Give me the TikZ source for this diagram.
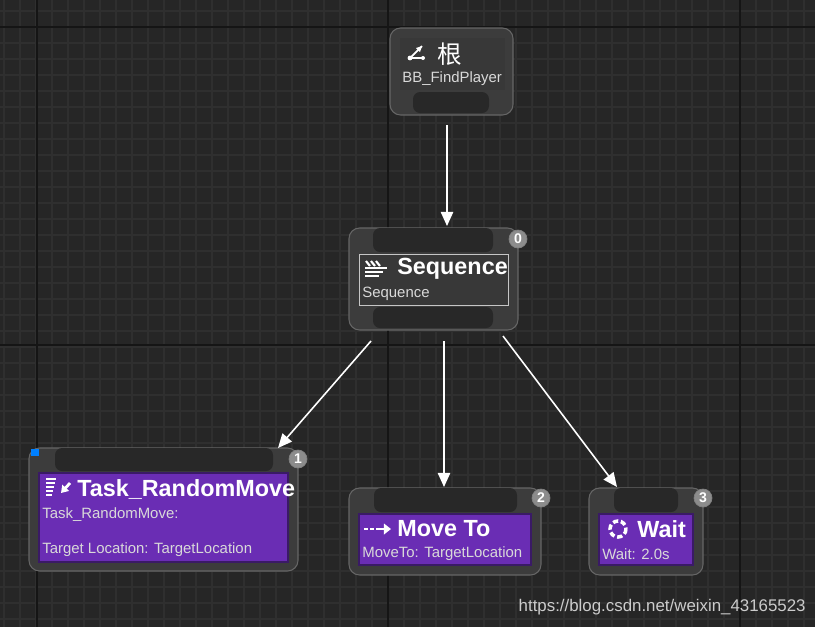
\documentclass[tikz,border=0pt]{standalone}
\usepackage{fontspec}
\setmainfont{Liberation Sans}
\newfontfamily\cjk{Noto Sans CJK SC}
\usetikzlibrary{arrows.meta}
\definecolor{bg}{HTML}{262626}
\definecolor{gfine}{HTML}{2F2F2F}
\definecolor{gbig}{HTML}{151515}
\definecolor{outerc}{HTML}{3C3C3C}
\definecolor{pinc}{HTML}{282828}
\definecolor{innerc}{HTML}{383838}
\definecolor{purp}{HTML}{6A2DB4}
\definecolor{purpb}{HTML}{3A1A66}
\definecolor{badgec}{HTML}{8C8C8C}
\begin{document}
\begin{tikzpicture}[x=0.02cm,y=-0.02cm,
 outerbox/.style={fill=outerc,rounded corners=6pt,draw=black!60,line width=0.6pt},
 pinbox/.style={fill=pinc,rounded corners=4pt},
 innerbox/.style={fill=innerc,draw=gray!45,line width=0.5pt},
 taskbox/.style={fill=purp,draw=purpb,line width=0.6pt},
 badge/.style={circle,fill=badgec,draw=black!50,inner sep=0pt,minimum size=0.36cm,text=white,font=\bfseries\fontsize{8}{8}\selectfont},
 title/.style={anchor=west,text=white,font=\bfseries\fontsize{13.3}{14}\selectfont,inner sep=0pt},
 sub/.style={anchor=west,text=white!85!black,font=\fontsize{8.5}{9}\selectfont,inner sep=0pt},
 conn/.style={draw=white,line width=0.9pt,-{Triangle[length=8pt,width=7pt]}}]
\fill[bg] (0,0) rectangle (815,627);
\useasboundingbox (0,0) rectangle (815,627);
\foreach \x in {4,20,...,815} \draw[gfine,line width=0.6pt] (\x,0) -- (\x,627);
\foreach \y in {11,27,...,627} \draw[gfine,line width=0.6pt] (0,\y) -- (815,\y);
\foreach \x in {37,388,740} \draw[gbig,line width=1pt] (\x,0) -- (\x,627);
\foreach \y in {27,345} \draw[gbig,line width=1pt] (0,\y) -- (815,\y);
% root
\draw[outerbox] (390,28) rectangle (513,115);
\fill[innerc] (400,38) rectangle (505,90);
\fill[pinbox] (413,92) rectangle (489,113);
\node[title,font=\cjk\fontsize{14}{14}\selectfont] (rt) at (437,54) {根};
\node[sub] (rs) at (402,79) {BB\_FindPlayer};
\draw[white,line width=1pt] (422,46) -- (410,58) -- (423,58);
\fill[white] (410,58) circle (2.4) (423,58) circle (2) (416,48) -- (422,46) -- (420,52) -- cycle;
% sequence
\draw[outerbox] (349,228) rectangle (518,330);
\fill[pinbox] (373,228) rectangle (493,252);
\draw[innerbox] (359,254) rectangle (508,305);
\fill[pinbox] (373,307) rectangle (493,328);
\node[title] (st) at (397,269) {Sequence};
\node[sub] (ss) at (362,294) {Sequence};
\foreach \i in {0,1,2} \draw[white,line width=1.2pt] (366+\i*5,261) -- (370+\i*5,266);
\foreach \i in {0,1,2} \draw[white,line width=1.5pt] (365,268+\i*4) -- (387-\i*4,268+\i*4);
\node[badge] (b0) at (518,239) {0};
% task
\draw[outerbox] (29,448) rectangle (298,571);
\fill[pinbox] (55,448) rectangle (273,471);
\fill[blue!50!cyan] (31,449) rectangle (39,456);
\draw[taskbox] (39,473) rectangle (288,562);
\node[title] (tt) at (77,489) {Task\_RandomMove};
\node[sub] (t1) at (42,515) {Task\_RandomMove:};
\node[sub] (t2) at (42,550) {Target Location: TargetLocation};
\foreach \i in {0,...,4} \draw[white,line width=1.3pt] (46,479+\i*4) -- (56-\i*1,479+\i*4);
\draw[white,line width=1.6pt,-{Triangle[length=4pt,width=5pt]}] (70,483) -- (61,493);
\node[badge] (b1) at (298,459) {1};
% move to
\draw[outerbox] (349,488) rectangle (541,575);
\fill[pinbox] (374,488) rectangle (517,512);
\draw[taskbox] (359,514) rectangle (531,565);
\node[title] (mt) at (397,529) {Move To};
\node[sub] (ms) at (362,554) {MoveTo: TargetLocation};
\draw[white,line width=1.3pt,dash pattern=on 2pt off 1.5pt] (364,529) -- (380,529);
\draw[white,line width=1.3pt,-{Triangle[length=4pt,width=6pt]}] (380,529) -- (391,529);
\node[badge] (b2) at (541,498) {2};
% wait
\draw[outerbox] (589,488) rectangle (703,575);
\fill[pinbox] (614,488) rectangle (678,512);
\draw[taskbox] (599,514) rectangle (693,565);
\node[title] (wt) at (637,529) {Wait};
\node[sub] (ws) at (602,554) {Wait: 2.0s};
\draw[white,line width=2pt,dash pattern=on 3pt off 1.6pt] (618,529) circle (8);
\node[badge] (b3) at (703,498) {3};
% connectors
\coordinate (c0) at (447,125); \coordinate (c1) at (447,226);
\coordinate (s1) at (371,341); \coordinate (e1) at (278,448);
\coordinate (s2) at (444,341); \coordinate (e2) at (444,487);
\coordinate (s3) at (503,336); \coordinate (e3) at (617,487);
\draw[conn] (c0) -- (c1);
\draw[conn] (s1) -- (e1);
\draw[conn] (s2) -- (e2);
\draw[conn] (s3) -- (e3);
\node[anchor=east,text=white!80!black,font=\fontsize{9.6}{10}\selectfont,inner sep=0pt] (wm) at (806,607) {https://blog.csdn.net/weixin\_43165523};
\end{tikzpicture}
\end{document}
